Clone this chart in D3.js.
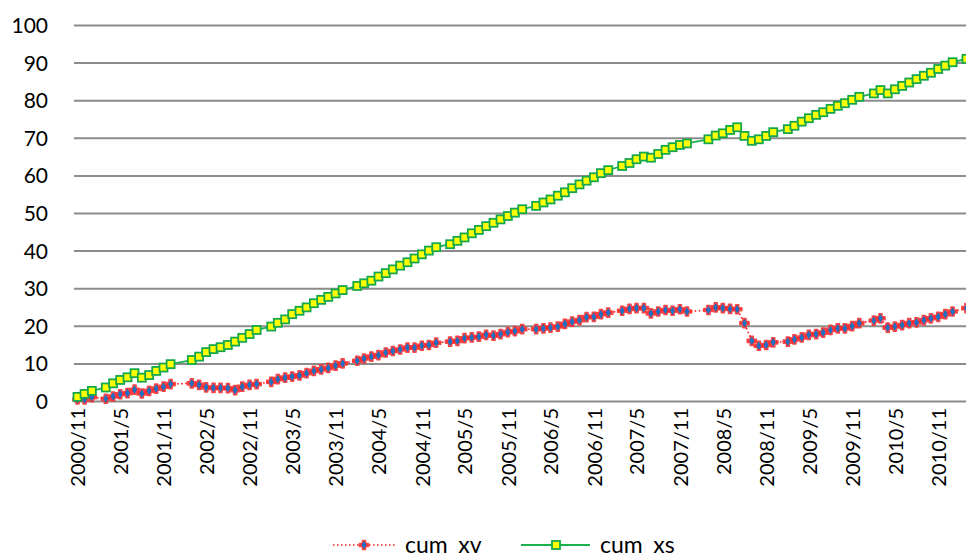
<!DOCTYPE html>
<html>
<head>
<meta charset="utf-8">
<script src="https://cdn.jsdelivr.net/npm/d3@7/dist/d3.min.js"></script>
<style>
  html, body { margin: 0; padding: 0; background: #fff; }
  svg { display: block; }
  text { font-family: Lato, "Open Sans", sans-serif; fill: #000; }
</style>
</head>
<body>
<svg id="chart" width="966" height="560"></svg>
<script>
// Monthly observations (some months have no record)
const months = [
  "2000/11","2000/12","2001/1",
  "2001/3","2001/4","2001/5","2001/6","2001/7","2001/8","2001/9","2001/10","2001/11","2001/12",
  "2002/3","2002/4","2002/5","2002/6","2002/7","2002/8","2002/9","2002/10","2002/11","2002/12",
  "2003/2","2003/3","2003/4","2003/5","2003/6","2003/7","2003/8","2003/9","2003/10","2003/11","2003/12",
  "2004/2","2004/3","2004/4","2004/5","2004/6","2004/7","2004/8","2004/9","2004/10","2004/11","2004/12",
  "2005/1","2005/3","2005/4","2005/5","2005/6","2005/7","2005/8","2005/9","2005/10","2005/11","2005/12",
  "2006/1","2006/3","2006/4","2006/5","2006/6","2006/7","2006/8","2006/9","2006/10","2006/11","2006/12",
  "2007/1","2007/3","2007/4","2007/5","2007/6","2007/7","2007/8","2007/9","2007/10","2007/11","2007/12",
  "2008/3","2008/4","2008/5","2008/6","2008/7","2008/8","2008/9","2008/10","2008/11","2008/12",
  "2009/2","2009/3","2009/4","2009/5","2009/6","2009/7","2009/8","2009/9","2009/10","2009/11","2009/12",
  "2010/2","2010/3","2010/4","2010/5","2010/6","2010/7","2010/8","2010/9","2010/10","2010/11","2010/12",
  "2011/1","2011/3"
];

const cumXv = [
  0.4, 0.4, 1.0,
  0.6, 1.2, 1.8, 2.1, 3.0, 2.0, 2.7, 3.3, 3.8, 4.5,
  4.7, 4.3, 3.6, 3.5, 3.5, 3.4, 2.9, 3.8, 4.3, 4.5,
  5.1, 5.8, 6.2, 6.5, 6.8, 7.4, 8.0, 8.4, 8.8, 9.4, 10.0,
  10.7, 11.3, 11.8, 12.2, 12.9, 13.3, 13.7, 14.2, 14.2, 14.7, 14.9,
  15.5, 15.8, 16.0, 16.7, 16.9, 17.1, 17.6, 17.4, 17.8, 18.3, 18.6,
  19.1, 19.1, 19.3, 19.5, 19.8, 20.5, 21.1, 21.5, 22.3, 22.4, 23.1,
  23.5, 24.0, 24.5, 24.7, 24.7, 23.3, 23.8, 24.2, 24.0, 24.4, 23.8,
  24.2, 24.9, 24.7, 24.5, 24.4, 20.7, 16.0, 14.7, 14.9, 15.6,
  15.8, 16.4, 16.9, 17.6, 17.8, 18.2, 18.9, 19.3, 19.3, 19.9, 20.7,
  21.4, 22.0, 19.5, 19.8, 20.2, 20.7, 20.9, 21.5, 22.0, 22.4, 23.1,
  23.8, 24.7
];

const cumXs = [
  1.1, 1.9, 2.7,
  3.6, 4.7, 5.6, 6.3, 7.4, 6.2, 6.9, 8.0, 8.9, 9.8,
  10.9, 11.8, 13.0, 13.8, 14.3, 14.9, 15.8, 16.8, 17.8, 18.9,
  19.8, 20.8, 21.7, 23.1, 24.0, 24.9, 26.0, 26.9, 27.7, 28.6, 29.5,
  30.6, 31.3, 32.0, 33.1, 34.0, 35.0, 36.0, 36.9, 37.9, 39.0, 40.0,
  40.9, 41.7, 42.6, 43.5, 44.6, 45.5, 46.5, 47.4, 48.3, 49.2, 50.1,
  51.0, 51.9, 52.8, 53.6, 54.6, 55.5, 56.6, 57.6, 58.6, 59.5, 60.6,
  61.4, 62.5, 63.3, 64.3, 65.0, 64.7, 65.7, 66.8, 67.5, 68.1, 68.5,
  69.6, 70.6, 71.2, 72.1, 72.8, 70.5, 69.2, 69.6, 70.5, 71.5,
  72.3, 73.2, 74.3, 75.2, 76.1, 76.8, 77.7, 78.5, 79.2, 80.1, 80.9,
  81.8, 82.7, 81.8, 82.9, 83.8, 84.7, 85.6, 86.5, 87.3, 88.3, 89.2,
  90.1, 91.0
];

const tickLabels = [
  "2000/11","2001/5","2001/11","2002/5","2002/11","2003/5","2003/11",
  "2004/5","2004/11","2005/5","2005/11","2006/5","2006/11","2007/5",
  "2007/11","2008/5","2008/11","2009/5","2009/11","2010/5","2010/11"
];
const yTicks = [0, 10, 20, 30, 40, 50, 60, 70, 80, 90, 100];
const seriesNames = ["cum_xv", "cum_xs"];

const parseMonth = d3.timeParse("%Y/%m");
const dates = months.map(parseMonth);

const svg = d3.select("#chart");
const plotLeft = 74, plotRight = 966;

const x = d3.scaleTime()
  .domain([parseMonth("2000/11"), parseMonth("2011/3")])
  .range([77.5, 966.5]);
const y = d3.scaleLinear().domain([0, 100]).range([401, 25]);

// horizontal gridlines and value labels
const yAxis = d3.axisLeft(y).tickValues(yTicks).tickSize(0).tickPadding(0);
const gy = svg.append("g").attr("transform", `translate(${plotLeft},0)`).call(yAxis);
gy.select(".domain").remove();
gy.selectAll(".tick line")
  .attr("x2", plotRight - plotLeft)
  .attr("stroke", "#8c8c8c")
  .attr("stroke-width", 2);
gy.selectAll(".tick text")
  .attr("x", -26)
  .attr("dy", "0.36em")
  .style("font-size", "21px")
  .style("font-family", "Lato, sans-serif")
  .attr("fill", "#000");

// date axis labels, rotated
const xAxis = d3.axisBottom(x)
  .tickValues(tickLabels.map(parseMonth))
  .tickFormat(d3.timeFormat("%Y/%-m"))
  .tickSize(0)
  .tickPadding(0);
const gx = svg.append("g").attr("transform", `translate(0,${y(0)})`).call(xAxis);
gx.select(".domain").remove();
gx.selectAll(".tick text")
  .attr("transform", "rotate(-90)")
  .attr("x", -7)
  .attr("y", 0)
  .attr("dy", "0.36em")
  .attr("text-anchor", "end")
  .style("font-size", "20px")
  .style("font-family", "Lato, sans-serif")
  .attr("fill", "#000");

const ptsXv = dates.map((d, i) => [x(d), y(cumXv[i])]);
const ptsXs = dates.map((d, i) => [x(d), y(cumXs[i])]);
const line = d3.line();

const plot = svg.append("g");

// cum_xv: red dotted line with blue/red star markers
plot.append("path")
  .attr("d", line(ptsXv))
  .attr("fill", "none")
  .attr("stroke", "#ff1a1a")
  .attr("stroke-width", 1.6)
  .attr("stroke-dasharray", "1.5,2.5");

const crossSym = d3.symbol().type(d3.symbolCross).size(46);
const diamondSym = d3.symbol().type(d3.symbolDiamond).size(22);
function xvMarker(sel) {
  sel.append("path").attr("d", crossSym())
    .attr("fill", "#ff2020").attr("stroke", "#ff3030").attr("stroke-width", 1.6)
    .attr("stroke-linejoin", "round").attr("opacity", 0.9);
  sel.append("path").attr("d", diamondSym()).attr("fill", "#1f6fc2");
}
plot.append("g").selectAll("g").data(ptsXv).join("g")
  .attr("transform", d => `translate(${d[0]},${d[1]})`)
  .call(xvMarker);

// cum_xs: green line with yellow squares
plot.append("path")
  .attr("d", line(ptsXs))
  .attr("fill", "none")
  .attr("stroke", "#1db04f")
  .attr("stroke-width", 1.8);

function xsMarker(sel) {
  sel.append("rect")
    .attr("x", -4).attr("y", -4).attr("width", 8).attr("height", 8)
    .attr("fill", "#ffff00").attr("stroke", "#15a84a").attr("stroke-width", 1.8);
}
plot.append("g").selectAll("g").data(ptsXs).join("g")
  .attr("transform", d => `translate(${d[0]},${d[1]})`)
  .call(xsMarker);

// legend (entry box ends just below the text baseline)
svg.append("clipPath").attr("id", "legClip")
  .append("rect").attr("x", 300).attr("y", 520).attr("width", 420).attr("height", 33);

const legY = 545;
const leg = svg.append("g").attr("clip-path", "url(#legClip)");
const l1 = leg.append("g");
l1.append("line").attr("x1", 333).attr("x2", 396).attr("y1", legY).attr("y2", legY)
  .attr("stroke", "#ff1a1a").attr("stroke-width", 1.6).attr("stroke-dasharray", "1.5,2.5");
l1.append("g").attr("transform", `translate(364,${legY})`).call(xvMarker);
l1.append("text").attr("x", 405).attr("y", legY).attr("dy", "0.36em")
  .style("font-size", "23px").text(seriesNames[0]);

const l2 = leg.append("g");
l2.append("line").attr("x1", 521).attr("x2", 590).attr("y1", legY).attr("y2", legY)
  .attr("stroke", "#1db04f").attr("stroke-width", 1.8);
l2.append("g").attr("transform", `translate(556,${legY})`).call(xsMarker);
l2.append("text").attr("x", 600).attr("y", legY).attr("dy", "0.36em")
  .style("font-size", "23px").text(seriesNames[1]);
</script>
</body>
</html>
